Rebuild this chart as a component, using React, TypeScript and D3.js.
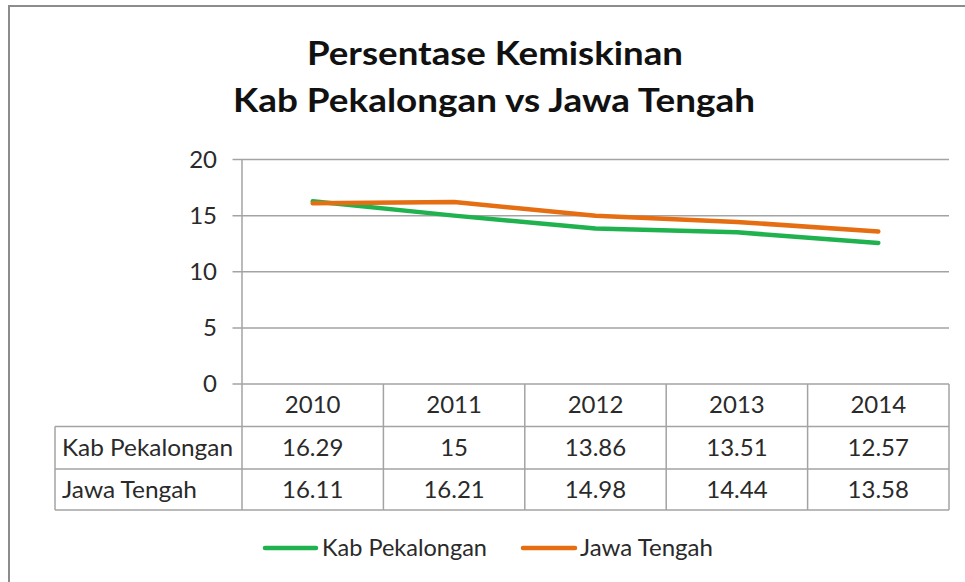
import React from "react";
import * as d3 from "d3";

const categories: string[] = ["2010", "2011", "2012", "2013", "2014"];
const kabPekalongan: number[] = [16.29, 15, 13.86, 13.51, 12.57];
const jawaTengah: number[] = [16.11, 16.21, 14.98, 14.44, 13.58];
const kabLabels: string[] = ["16.29", "15", "13.86", "13.51", "12.57"];
const jawaLabels: string[] = ["16.11", "16.21", "14.98", "14.44", "13.58"];
const yTicks: number[] = [0, 5, 10, 15, 20];
const seriesNames: string[] = ["Kab Pekalongan", "Jawa Tengah"];
const titleLines: string[] = ["Persentase Kemiskinan", "Kab Pekalongan vs Jawa Tengah"];

const W = 965;
const H = 582;
const GREEN = "#1fb24f";
const ORANGE = "#e56d12";
const GRID = "#a3a3a3";
const TEXT = "#2a2a2a";
const FONT = "Lato, 'Open Sans', sans-serif";

export default function App() {
  const x = d3.scaleBand<string>().domain(categories).range([242, 949]).padding(0);
  const y = d3.scaleLinear().domain([0, 20]).range([384, 159.5]);
  const rowH = 42.5;
  const tableTop = y(0);
  const rows = [tableTop, tableTop + rowH, tableTop + 2 * rowH, 510];
  const tableLeft = 55;
  const xl = 242;
  const xr = 949;
  const fs = 24;

  const line = d3
    .line<number>()
    .x((_, i) => (x(categories[i]) as number) + x.bandwidth() / 2)
    .y((d) => y(d));

  const series = [
    { name: seriesNames[0], values: kabPekalongan, labels: kabLabels, color: GREEN, len: 171 },
    { name: seriesNames[1], values: jawaTengah, labels: jawaLabels, color: ORANGE, len: 135 },
  ];

  return (
    <svg
      width={W}
      height={H}
      style={{ position: "absolute", left: 0, top: 0, background: "#fff" }}
      fontFamily={FONT}
    >
      <rect x={0} y={0} width={W} height={H} fill="#fff" />
      {/* outer frame */}
      <rect x={9} y={6} width={1200} height={1200} fill="none" stroke="#8c8c8c" strokeWidth={2} />

      {/* title */}
      <text x={495} y={65} textAnchor="middle" fontSize={33} fontWeight="bold" fill="#111"
        textLength={376} lengthAdjust="spacingAndGlyphs">
        {titleLines[0]}
      </text>
      <text x={494} y={112} textAnchor="middle" fontSize={33} fontWeight="bold" fill="#111"
        textLength={522} lengthAdjust="spacingAndGlyphs">
        {titleLines[1]}
      </text>

      {/* gridlines and y ticks */}
      {yTicks.map((t) => (
        <g key={t}>
          <line x1={232.5} x2={xr} y1={y(t)} y2={y(t)} stroke={GRID} strokeWidth={1.5} />
          <text x={217} y={y(t) + 8} textAnchor="end" fontSize={fs} fill={TEXT}>
            {t}
          </text>
        </g>
      ))}
      {/* y axis */}
      <line x1={xl} x2={xl} y1={y(20)} y2={rows[3]} stroke={GRID} strokeWidth={1.5} />

      {/* table grid */}
      {categories.map((c) => (
        <line key={c} x1={(x(c) as number) + x.bandwidth()} x2={(x(c) as number) + x.bandwidth()}
          y1={tableTop} y2={rows[3]} stroke={GRID} strokeWidth={1.5} />
      ))}
      {rows.slice(1).map((r, i) => (
        <line key={i} x1={tableLeft} x2={xr} y1={r} y2={r} stroke={GRID} strokeWidth={1.5} />
      ))}
      <line x1={tableLeft} x2={tableLeft} y1={rows[1]} y2={rows[3]} stroke={GRID} strokeWidth={1.5} />

      {/* header */}
      {categories.map((c) => (
        <text key={c} x={(x(c) as number) + x.bandwidth() / 2} y={rows[0] + 29} textAnchor="middle"
          fontSize={fs} fill={TEXT}>
          {c}
        </text>
      ))}
      {series.map((s, si) => (
        <g key={s.name}>
          <text x={62} y={rows[si + 1] + 29} fontSize={fs} fill={TEXT} textLength={s.len}
            lengthAdjust="spacingAndGlyphs">
            {s.name}
          </text>
          {s.labels.map((l, i) => (
            <text key={i} x={(x(categories[i]) as number) + x.bandwidth() / 2} y={rows[si + 1] + 29}
              textAnchor="middle" fontSize={fs} fill={TEXT}>
              {l}
            </text>
          ))}
        </g>
      ))}

      {/* lines */}
      {series.map((s) => (
        <path key={s.name} d={line(s.values) as string} fill="none" stroke={s.color} strokeWidth={4.5}
          strokeLinecap="round" strokeLinejoin="round" />
      ))}

      {/* legend */}
      <line x1={265} x2={316} y1={548} y2={548} stroke={GREEN} strokeWidth={4.5} strokeLinecap="round" />
      <text x={322} y={556} fontSize={23} fill={TEXT} textLength={165} lengthAdjust="spacingAndGlyphs">
        {seriesNames[0]}
      </text>
      <line x1={523} x2={575} y1={548} y2={548} stroke={ORANGE} strokeWidth={4.5} strokeLinecap="round" />
      <text x={580} y={556} fontSize={23} fill={TEXT} textLength={133} lengthAdjust="spacingAndGlyphs">
        {seriesNames[1]}
      </text>
    </svg>
  );
}
